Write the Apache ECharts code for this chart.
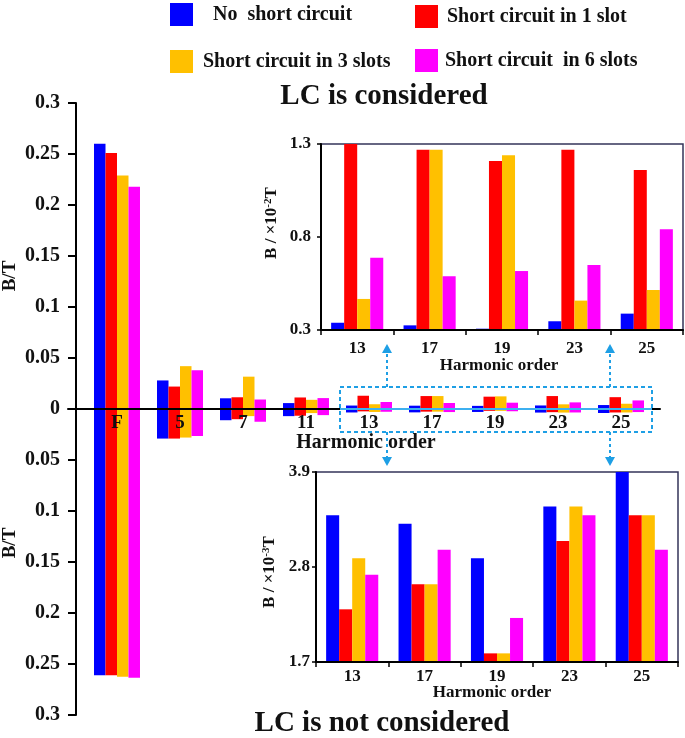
<!DOCTYPE html>
<html>
<head>
<meta charset="utf-8">
<script src="https://cdn.jsdelivr.net/npm/echarts@6/dist/echarts.min.js"></script>
<style>
html,body{margin:0;padding:0;background:#fff;}
#chart{width:685px;height:738px;}
</style>
</head>
<body>
<div id="chart"></div>
<script>
// ---------- DATA ----------
const categories = ['F', '5', '7', '11', '13', '17', '19', '23', '25'];
const insetCategories = ['13', '17', '19', '23', '25'];
const seriesNames = ['No  short circuit', 'Short circuit in 1 slot', 'Short circuit in 3 slots', 'Short circuit  in 6 slots'];
const colors = ['#0000FF', '#FF0000', '#FFC000', '#FF00FF'];

// LC is considered: harmonics F, 5, 7, 11 (T)
const lcNoShort = [0.260, 0.028, 0.0105, 0.0058];
const lcShort1 = [0.251, 0.022, 0.0115, 0.0113];
const lcShort3 = [0.229, 0.042, 0.0317, 0.0090];
const lcShort6 = [0.218, 0.038, 0.0093, 0.0107];

// LC is considered: harmonics 13..25 (x10^-2 T)
const lcInsetNoShort = [0.339, 0.325, 0.307, 0.347, 0.388];
const lcInsetShort1 = [1.30, 1.269, 1.209, 1.269, 1.16];
const lcInsetShort3 = [0.467, 1.269, 1.239, 0.458, 0.515];
const lcInsetShort6 = [0.689, 0.589, 0.617, 0.649, 0.841];

// LC is not considered: harmonics F, 5, 7, 11 (T, magnitude)
const nlcNoShort = [0.261, 0.029, 0.011, 0.0070];
const nlcShort1 = [0.261, 0.029, 0.010, 0.0066];
const nlcShort3 = [0.2625, 0.028, 0.007, 0.0040];
const nlcShort6 = [0.2635, 0.0265, 0.0125, 0.0060];

// LC is not considered: harmonics 13..25 (x10^-3 T)
const nlcInsetNoShort = [3.40, 3.30, 2.90, 3.50, 3.90];
const nlcInsetShort1 = [2.31, 2.60, 1.80, 3.10, 3.40];
const nlcInsetShort3 = [2.90, 2.60, 1.80, 3.50, 3.40];
const nlcInsetShort6 = [2.71, 3.00, 2.21, 3.40, 3.00];

const mainY = { min: 0, max: 0.3, interval: 0.05 };
const upperInsetY = { min: 0.3, max: 1.3, interval: 0.5 };
const lowerInsetY = { min: 1.7, max: 3.9, interval: 1.1 };

// ---------- BUILD ----------
const FONT = 'Liberation Serif';
const lcLow = [lcNoShort, lcShort1, lcShort3, lcShort6];
const lcIns = [lcInsetNoShort, lcInsetShort1, lcInsetShort3, lcInsetShort6];
const nlcLow = [nlcNoShort, nlcShort1, nlcShort3, nlcShort6];
const nlcIns = [nlcInsetNoShort, nlcInsetShort1, nlcInsetShort3, nlcInsetShort6];

const series = [];
for (let i = 0; i < 4; i++) {
  series.push({
    name: seriesNames[i], type: 'bar', xAxisIndex: 0, yAxisIndex: 0,
    data: lcLow[i].concat(lcIns[i].map(v => v / 100)),
    itemStyle: { color: colors[i] }, barGap: '0%', barCategoryGap: '27%'
  });
}
for (let i = 0; i < 4; i++) {
  series.push({
    name: seriesNames[i], type: 'bar', xAxisIndex: 1, yAxisIndex: 1,
    data: nlcLow[i].concat(nlcIns[i].map(v => v / 1000)),
    itemStyle: { color: colors[i] }, barGap: '0%', barCategoryGap: '27%'
  });
}
for (let i = 0; i < 4; i++) {
  series.push({
    name: seriesNames[i], type: 'bar', xAxisIndex: 3, yAxisIndex: 3, clip: true,
    data: lcIns[i], itemStyle: { color: colors[i] }, barGap: '0%', barCategoryGap: '28%'
  });
}
for (let i = 0; i < 4; i++) {
  series.push({
    name: seriesNames[i], type: 'bar', xAxisIndex: 4, yAxisIndex: 4, clip: true,
    data: nlcIns[i], itemStyle: { color: colors[i] }, barGap: '0%', barCategoryGap: '28%'
  });
}

const legendText = { fontFamily: FONT, fontWeight: 'bold', fontSize: 20, color: '#111' };
function legendAt(name, left, top, gap) {
  return {
    data: [name], left: left, top: top, padding: 0, icon: 'rect',
    itemWidth: 23, itemHeight: 23, selectedMode: false,
    textStyle: Object.assign({ padding: [0, 0, 0, gap] }, legendText)
  };
}

const boldLbl = (size) => ({ fontFamily: FONT, fontWeight: 'bold', fontSize: size, color: '#111' });
const blackLine = { color: '#000', width: 2 };
const frameColor = '#34345a';
const boxColor = '#1E9FE5';

function txt(text, x, y, size, rot, rich) {
  const el = {
    type: 'text', x: x, y: y, rotation: rot || 0, z: 100,
    style: {
      text: text, fill: '#111', fontFamily: FONT, fontWeight: 'bold', fontSize: size,
      align: 'center', verticalAlign: 'middle'
    }
  };
  if (rich) el.style.rich = rich;
  return el;
}
const supRich = {
  sup: { fontFamily: FONT, fontWeight: 'bold', fontSize: 11, fill: '#111', verticalAlign: 'top', padding: [0, 0, 8, 0] }
};

function arrow(x, y0, y1) {
  const dir = y1 < y0 ? -1 : 1;
  return [
    { type: 'line', z: 90, shape: { x1: x, y1: y0, x2: x, y2: y1 - dir * 8 },
      style: { stroke: boxColor, lineWidth: 2, lineDash: [3, 3] } },
    { type: 'polygon', z: 90, shape: { points: [[x, y1], [x - 5, y1 - dir * 9], [x + 5, y1 - dir * 9]] },
      style: { fill: boxColor } }
  ];
}

const graphic = [
  txt('LC is considered', 384, 97, 29),
  txt('LC is not considered', 382, 724, 29),
  txt('B/T', 10, 276, 19, Math.PI / 2),
  txt('B/T', 10, 543, 19, Math.PI / 2),
  txt('Harmonic order', 366, 443, 20),
  txt('Harmonic order', 499, 366, 17),
  txt('Harmonic order', 492, 693, 17),
  txt('B / ×10{sup|-2}T', 272, 223, 17, Math.PI / 2, supRich),
  txt('B / ×10{sup|-3}T', 270, 572, 17, Math.PI / 2, supRich),
  { type: 'rect', z: 90, shape: { x: 340, y: 387, width: 312, height: 45 },
    style: { fill: 'none', stroke: boxColor, lineWidth: 2, lineDash: [4, 3] } },
  { type: 'line', z: 95, shape: { x1: 340, y1: 409, x2: 652, y2: 409 },
    style: { stroke: '#3DB0F0', lineWidth: 2 } }
].concat(arrow(387, 387, 344), arrow(610, 387, 344), arrow(387, 432, 466), arrow(610, 432, 466));

const mainYAxisBase = {
  type: 'value', min: mainY.min, max: mainY.max, interval: mainY.interval, offset: 9.5, z: 10,
  axisLine: { show: true, onZero: false, lineStyle: blackLine },
  axisTick: { show: true, length: 8, lineStyle: blackLine },
  splitLine: { show: false }
};

const option = {
  animation: false,
  backgroundColor: '#fff',
  legend: [
    legendAt(seriesNames[0], 170, 3, 15),
    legendAt(seriesNames[1], 415, 5, 4),
    legendAt(seriesNames[2], 170, 50, 5),
    legendAt(seriesNames[3], 415, 49, 2)
  ],
  grid: [
    { left: 85.5, right: 32.5, top: 103, bottom: 329, outerBoundsMode: 'none' },
    { left: 85.5, right: 32.5, top: 409, bottom: 23, outerBoundsMode: 'none' },
    { left: 68, right: 25, top: 103, bottom: 23, outerBoundsMode: 'none' },
    { left: 321, right: 2, top: 144, bottom: 408, show: true, borderColor: frameColor, borderWidth: 1.5, backgroundColor: 'transparent', outerBoundsMode: 'none' },
    { left: 316, right: 7, top: 472, bottom: 76, show: true, borderColor: frameColor, borderWidth: 1.5, backgroundColor: 'transparent', outerBoundsMode: 'none' }
  ],
  xAxis: [
    { gridIndex: 0, type: 'category', data: categories, z: 10, position: 'bottom',
      axisLine: { show: true, lineStyle: blackLine }, axisTick: { show: false },
      axisLabel: Object.assign({ margin: 5, interval: 0 }, boldLbl(19)), splitLine: { show: false } },
    { gridIndex: 1, type: 'category', data: categories, position: 'top', show: false },
    { gridIndex: 2, type: 'value', min: 0, max: 1, z: 10, position: 'bottom',
      axisLine: { show: true, onZero: true, lineStyle: blackLine }, axisTick: { show: false },
      axisLabel: { show: false }, splitLine: { show: false } },
    { gridIndex: 3, type: 'category', data: insetCategories, z: 10,
      axisLine: { show: true, lineStyle: blackLine },
      axisTick: { show: true, length: 5, alignWithLabel: false, lineStyle: { color: '#000', width: 1.5 } },
      axisLabel: Object.assign({ margin: 10, interval: 0 }, boldLbl(17)), splitLine: { show: false } },
    { gridIndex: 4, type: 'category', data: insetCategories, z: 10,
      axisLine: { show: true, lineStyle: blackLine },
      axisTick: { show: true, length: 5, alignWithLabel: false, lineStyle: { color: '#000', width: 1.5 } },
      axisLabel: Object.assign({ margin: 6, interval: 0 }, boldLbl(17)), splitLine: { show: false } }
  ],
  yAxis: [
    Object.assign({ gridIndex: 0,
      axisLabel: Object.assign({ margin: 16, formatter: v => String(parseFloat(v.toFixed(2))) }, boldLbl(20)) }, mainYAxisBase),
    Object.assign({ gridIndex: 1, inverse: true,
      axisLabel: Object.assign({ margin: 16, showMinLabel: false, formatter: v => String(parseFloat(v.toFixed(2))) }, boldLbl(20)) }, mainYAxisBase),
    { gridIndex: 2, type: 'value', min: -1, max: 1, show: false, splitLine: { show: false } },
    { gridIndex: 3, type: 'value', min: upperInsetY.min, max: upperInsetY.max, interval: upperInsetY.interval, z: 10,
      axisLine: { show: true, onZero: false, lineStyle: blackLine },
      axisTick: { show: true, length: 4, lineStyle: { color: '#000', width: 1.5 } },
      axisLabel: Object.assign({ margin: 10, formatter: v => v.toFixed(1) }, boldLbl(17)),
      splitLine: { show: false } },
    { gridIndex: 4, type: 'value', min: lowerInsetY.min, max: lowerInsetY.max, interval: lowerInsetY.interval, z: 10,
      axisLine: { show: true, onZero: false, lineStyle: blackLine },
      axisTick: { show: true, length: 4, lineStyle: { color: '#000', width: 1.5 } },
      axisLabel: Object.assign({ margin: 6, formatter: v => v.toFixed(1) }, boldLbl(17)),
      splitLine: { show: false } }
  ],
  graphic: graphic,
  series: series
};

const chart = echarts.init(document.getElementById('chart'), null, { renderer: 'canvas' });
chart.setOption(option);
</script>
</body>
</html>
